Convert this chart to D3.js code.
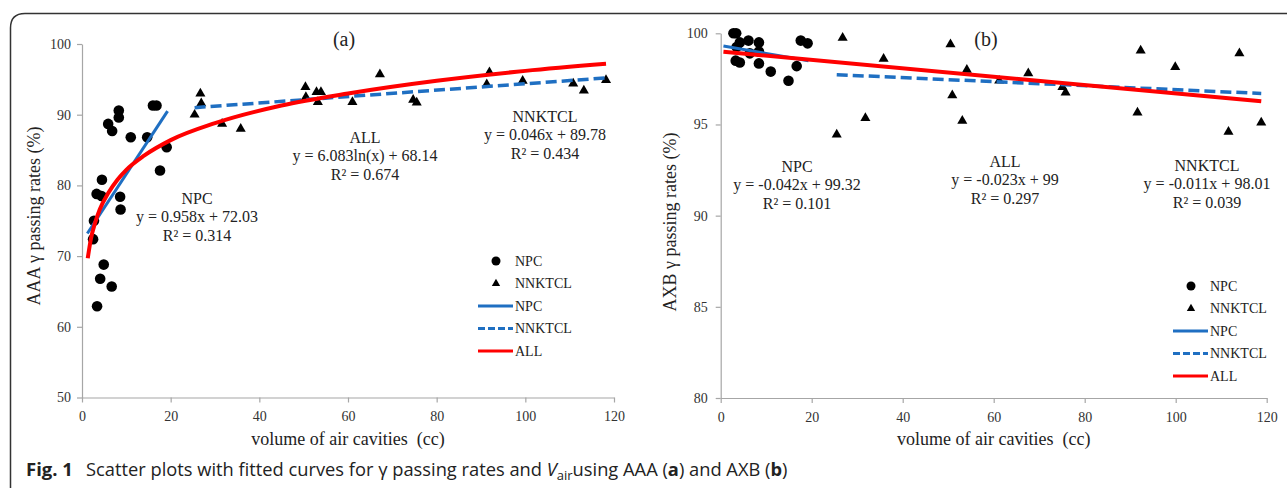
<!DOCTYPE html>
<html>
<head>
<meta charset="utf-8">
<script src="https://cdn.jsdelivr.net/npm/d3@7"></script>
<style>
    body { margin: 0; background: #fff; }
    svg text { font-family: "Liberation Serif", "Times New Roman", serif; fill: #222; }
    .axis path, .axis line { stroke: #a6a6a6; stroke-width: 1.2; }
    .axis text { font-size: 14px; fill: #333; }
    .caption text { font-family: "Open Sans", sans-serif; fill: #222; }
</style>
</head>
<body>
<svg id="fig" width="1287" height="488"></svg>
<script>
// ---- data ----
const xTicks = [0, 20, 40, 60, 80, 100, 120];
const aaaYTicks = [50, 60, 70, 80, 90, 100];
const axbYTicks = [80, 85, 90, 95, 100];

// AAA: [air volume cc, gamma passing rate %]
const aaaNpc = [
    [16.0, 91.3], [16.8, 91.3], [8.3, 90.6], [8.3, 89.6], [5.9, 88.7], [6.8, 87.7],
    [11.0, 86.8], [14.7, 86.8], [19.1, 85.4], [17.6, 82.1], [4.5, 80.8], [3.3, 78.8],
    [4.4, 78.5], [8.6, 78.4], [8.7, 76.6], [2.7, 75.0], [2.5, 72.4], [4.9, 68.8],
    [4.1, 66.8], [6.7, 65.7], [3.4, 62.9]
];
const aaaNnktcl = [
    [25.4, 90.0], [26.7, 93.0], [26.9, 91.6], [31.6, 88.7], [35.8, 88.0],
    [50.4, 93.9], [50.5, 92.5], [52.9, 93.2], [53.9, 93.2], [53.2, 91.8],
    [61.0, 91.8], [67.2, 95.7], [74.7, 92.1], [75.5, 91.7], [91.9, 96.0],
    [91.3, 94.3], [99.4, 94.8], [110.8, 94.4], [113.2, 93.4], [118.2, 94.9]
];
// trendlines as drawn in the figure
const aaaNpcFit = [[1.2, 73.2], [19.3, 90.5]];
const aaaNnktclFit = [[25.4, 91.0], [118.2, 95.2]];
const aaaAllFit = [
    [1.3, 69.7], [2, 72.4], [3, 74.8], [4, 76.6], [6, 79.0], [8, 80.8], [10, 82.2],
    [14, 84.2], [20, 86.4], [30, 88.8], [45, 91.3], [60, 93.0], [80, 94.8],
    [100, 96.2], [118.2, 97.2]
];

// AXB
const axbNpc = [
    [2.8, 100.0], [3.4, 100.0], [6.1, 99.6], [4.2, 99.5], [8.4, 99.5], [17.6, 99.6],
    [19.1, 99.45], [3.5, 99.25], [6.4, 98.9], [8.4, 99.0], [3.3, 98.5], [4.2, 98.4],
    [8.4, 98.35], [11.0, 97.9], [16.7, 98.2], [14.9, 97.4]
];
const axbNnktcl = [
    [26.8, 99.75], [25.5, 94.45], [31.8, 95.35], [35.8, 98.6], [50.5, 99.4],
    [50.9, 96.6], [53.1, 95.2], [54.1, 98.0], [61.2, 97.4], [67.6, 97.8],
    [75.1, 97.05], [75.8, 96.75], [92.3, 99.05], [91.6, 95.65], [99.9, 98.15],
    [114.0, 98.9], [111.6, 94.6], [118.8, 95.1]
];
const axbNpcFit = [[0.6, 99.3], [19.3, 98.5]];
const axbNnktclFit = [[25.5, 97.73], [118.8, 96.70]];
const axbAllFit = [[0.6, 98.99], [118.8, 96.27]];

const legendLabels = ["NPC", "NNKTCL", "NPC", "NNKTCL", "ALL"];

const BLUE = "#1f6fc2";
const RED = "#ff0000";

const svg = d3.select("#fig");

// frame around the figure
svg.append("path")
    .attr("d", "M10.5,488 V28 Q10.5,13.5 25,13.5 H1287")
    .attr("fill", "none")
    .attr("stroke", "#333")
    .attr("stroke-width", 1.5);

function drawPanel(cfg) {
    const x = d3.scaleLinear().domain([0, 120]).range(cfg.xRange);
    const y = d3.scaleLinear().domain(cfg.yDomain).range(cfg.yRange);
    const g = svg.append("g");

    g.append("g")
        .attr("class", "axis")
        .attr("transform", `translate(0,${cfg.yRange[0]})`)
        .call(d3.axisBottom(x).tickValues(xTicks).tickSize(5).tickSizeOuter(0).tickPadding(9));

    g.append("g")
        .attr("class", "axis")
        .attr("transform", `translate(${cfg.xRange[0]},0)`)
        .call(d3.axisLeft(y).tickValues(cfg.yTicks).tickSize(5).tickSizeOuter(0).tickPadding(cfg.yPad));

    g.selectAll(".domain").attr("stroke", "#a6a6a6");

    // axis titles
    g.append("text")
        .attr("x", (cfg.xRange[0] + cfg.xRange[1]) / 2)
        .attr("y", cfg.yRange[0] + 47)
        .attr("text-anchor", "middle")
        .style("font-size", "18px")
        .style("white-space", "pre")
        .text("volume of air cavities  (cc)");

    g.append("text")
        .attr("transform", `translate(${cfg.yTitleX},${cfg.yTitleY}) rotate(-90)`)
        .attr("text-anchor", "middle")
        .attr("dy", "0.35em")
        .style("font-size", "18px")
        .text(cfg.yTitle);

    g.append("text")
        .attr("x", cfg.tag[0]).attr("y", cfg.tag[1])
        .attr("text-anchor", "middle")
        .attr("dy", "0.35em")
        .style("font-size", "20px")
        .text(cfg.tagText);

    // points
    g.selectAll(".npc").data(cfg.npc).enter().append("circle")
        .attr("cx", d => x(d[0]))
        .attr("cy", d => y(d[1]))
        .attr("r", 5.3)
        .attr("fill", "#000");

    const tri = d3.symbol().type(d3.symbolTriangle).size(44);
    g.selectAll(".nnk").data(cfg.nnk).enter().append("path")
        .attr("d", tri)
        .attr("transform", d => `translate(${x(d[0])},${y(d[1])})`)
        .attr("fill", "#000");

    // fitted lines
    const line = d3.line().x(d => x(d[0])).y(d => y(d[1])).curve(d3.curveMonotoneX);

    g.append("path").datum(cfg.nnkFit)
        .attr("d", line).attr("fill", "none")
        .attr("stroke", BLUE).attr("stroke-width", 3.5)
        .attr("stroke-dasharray", "11,5");
    g.append("path").datum(cfg.npcFit)
        .attr("d", line).attr("fill", "none")
        .attr("stroke", BLUE).attr("stroke-width", 3);
    g.append("path").datum(cfg.allFit)
        .attr("d", line).attr("fill", "none")
        .attr("stroke", RED).attr("stroke-width", 4);

    // equation labels
    cfg.notes.forEach(n => {
        const t = g.append("text")
            .attr("text-anchor", "middle")
            .style("font-size", "16px");
        n.lines.forEach((s, i) => {
            t.append("tspan")
                .attr("x", n.x)
                .attr("y", n.y + i * 18.5)
                .attr("dy", "0.35em")
                .text(s);
        });
    });

    // legend
    const lg = g.append("g").attr("transform", `translate(${cfg.legend[0]},${cfg.legend[1]})`);
    legendLabels.forEach((label, i) => {
        const row = lg.append("g").attr("transform", `translate(0,${i * 22.5})`);
        if (i === 0) {
            row.append("circle").attr("cx", 18).attr("r", 4.5).attr("fill", "#000");
        } else if (i === 1) {
            row.append("path").attr("d", d3.symbol().type(d3.symbolTriangle).size(30))
                .attr("transform", "translate(18,0)").attr("fill", "#000");
        } else {
            row.append("line")
                .attr("x1", 0).attr("x2", 35)
                .attr("stroke", i === 4 ? RED : BLUE)
                .attr("stroke-width", 3)
                .attr("stroke-dasharray", i === 3 ? "7,3" : null);
        }
        row.append("text")
            .attr("x", 37).attr("dy", "0.35em")
            .style("font-size", "14px")
            .text(label);
    });
}

drawPanel({
    xRange: [82, 614], yRange: [397.5, 44], yDomain: [50, 100], yTicks: aaaYTicks, yPad: 6,
    npc: aaaNpc, nnk: aaaNnktcl, npcFit: aaaNpcFit, nnkFit: aaaNnktclFit, allFit: aaaAllFit,
    yTitle: "AAA γ passing rates (%)", yTitleX: 34, yTitleY: 216,
    tag: [344, 39], tagText: "(a)",
    legend: [478, 261],
    notes: [
        { x: 197, y: 198, lines: ["NPC", "y = 0.958x + 72.03", "R² = 0.314"] },
        { x: 365, y: 137, lines: ["ALL", "y = 6.083ln(x) + 68.14", "R² = 0.674"] },
        { x: 545, y: 116, lines: ["NNKTCL", "y = 0.046x + 89.78", "R² = 0.434"] }
    ]
});

drawPanel({
    xRange: [720.7, 1266.7], yRange: [398, 33.3], yDomain: [80, 100], yTicks: axbYTicks, yPad: 8,
    npc: axbNpc, nnk: axbNnktcl, npcFit: axbNpcFit, nnkFit: axbNnktclFit, allFit: axbAllFit,
    yTitle: "AXB γ passing rates (%)", yTitleX: 670, yTitleY: 222,
    tag: [986, 39], tagText: "(b)",
    legend: [1173, 286],
    notes: [
        { x: 797, y: 166, lines: ["NPC", "y = -0.042x + 99.32", "R² = 0.101"] },
        { x: 1005, y: 161, lines: ["ALL", "y = -0.023x + 99", "R² = 0.297"] },
        { x: 1207, y: 165, lines: ["NNKTCL", "y = -0.011x + 98.01", "R² = 0.039"] }
    ]
});

// caption
const cap = svg.append("g").attr("class", "caption");
cap.append("text")
    .attr("x", 26).attr("y", 476)
    .style("font-size", "18.5px").style("font-weight", "bold")
    .text("Fig. 1");
const body = cap.append("text")
    .attr("x", 86).attr("y", 476)
    .style("font-size", "18.3px");
body.append("tspan").text("Scatter plots with fitted curves for γ passing rates and ");
body.append("tspan").style("font-style", "italic").text("V");
body.append("tspan").attr("dy", 4).style("font-size", "13px").text("air");
body.append("tspan").attr("dy", -4).text("using AAA (");
body.append("tspan").style("font-weight", "bold").text("a");
body.append("tspan").text(") and AXB (");
body.append("tspan").style("font-weight", "bold").text("b");
body.append("tspan").text(")");
</script>
</body>
</html>
